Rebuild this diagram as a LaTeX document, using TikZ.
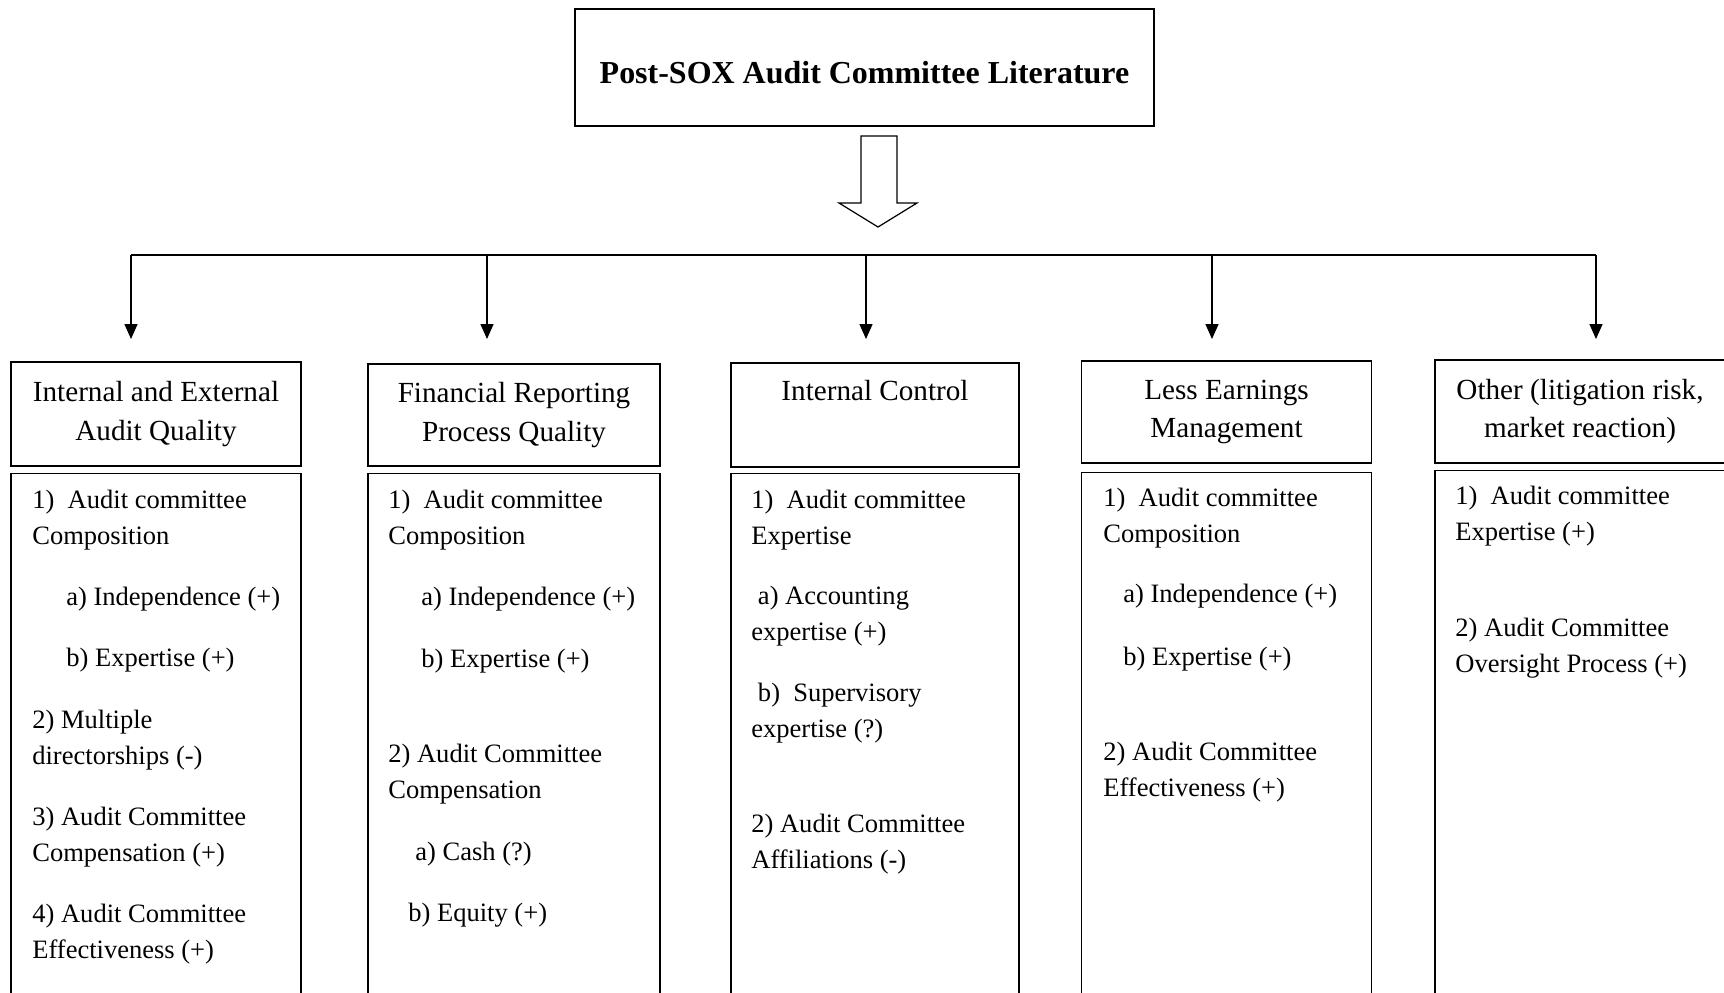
\documentclass[tikz,border=0pt]{standalone}
\usepackage{fontspec}
\setmainfont{Liberation Serif}
\usetikzlibrary{arrows.meta}

\tikzset{
  hdr/.style={draw, line width=0.8pt, align=center, inner sep=0pt,
    minimum width=5.8cm, minimum height=2.04cm,
    font=\fontsize{16.6}{21.9}\selectfont},
  bodybox/.style={draw, line width=0.8pt, inner sep=0pt, anchor=north,
    minimum width=5.8cm, minimum height=11cm},
  item/.style={anchor=base west, align=left, inner sep=0pt,
    font=\fontsize{15.1}{20.2}\selectfont},
  feed/.style={-{Triangle[width=7.4pt,length=8.5pt]}, line width=0.7pt},
}

\begin{document}
\begin{tikzpicture}[x=0.02cm, y=-0.02cm]
	\useasboundingbox (0,0) rectangle (1724,992);
	\clip (0,0) rectangle (1724,992);
	
	% title and block arrow
	\node[draw, line width=0.8pt, minimum width=11.58cm, minimum height=2.34cm,
	  text height=17.8pt, text depth=0pt,
	  font=\bfseries\fontsize{18.2}{22}\selectfont] (top) at (864.5,67.5) {Post-SOX Audit Committee Literature};
	\draw[line width=0.7pt] (861,136) -- (897,136) -- (897,203) -- (917,203) -- (878,227)
	  -- (839,203) -- (861,203) -- cycle;
	
	% branches
	\foreach \x [count=\i] in {131,487,866,1212,1596}{
		\coordinate (s\i) at (\x,255);
		\coordinate (t\i) at (\x,339);
		\draw[feed] (s\i) -- (t\i);
	}
	\draw[line width=0.8pt] (s1) -- (s5);
	
	% headings
	\node[hdr, minimum height=2.08cm] (hq) at (156,414) {Internal and External\\Audit Quality};
	\node[hdr, minimum width=5.84cm] (hfr) at (514,415) {Financial Reporting\\Process Quality};
	\node[hdr, minimum width=5.76cm, minimum height=2.08cm] (hic) at (875,415) {Internal Control\\\strut};
	\node[hdr] (hem) at (1226.5,412) {Less Earnings\\Management};
	\node[hdr, minimum height=2.06cm] (hot) at (1580,411.5) {Other (litigation risk,\\market reaction)};
	
	% bodies
	\node[bodybox] (bq) at (156,473) {};
	\node[bodybox, minimum width=5.84cm] (bfr) at (514,473) {};
	\node[bodybox, minimum width=5.76cm] (bic) at (875,473) {};
	\node[bodybox] (bem) at (1226.5,472) {};
	\node[bodybox] (bot) at (1580,470) {};
	
	% audit quality
	\node[item] (q1) at (32,544) {1)~~Audit committee\\Composition};
	\node[item] (q1a) at (66,605) {a) Independence (+)};
	\node[item] (q1b) at (66,666) {b) Expertise (+)};
	\node[item] (q2) at (32,764) {2) Multiple\\directorships (-)};
	\node[item] (q3) at (32,861) {3) Audit Committee\\Compensation (+)};
	\node[item] (q4) at (32,958) {4) Audit Committee\\Effectiveness (+)};
	
	% reporting process
	\node[item] (fr1) at (388,544) {1)~~Audit committee\\Composition};
	\node[item] (fr1a) at (421,605) {a) Independence (+)};
	\node[item] (fr1b) at (421,667) {b) Expertise (+)};
	\node[item] (fr2) at (388,798) {2) Audit Committee\\Compensation};
	\node[item] (fr2a) at (415,860) {a) Cash (?)};
	\node[item] (fr2b) at (408,921) {b) Equity (+)};
	
	% internal control
	\node[item] (ic1) at (751,544) {1)~~Audit committee\\Expertise};
	\node[item] (ic1a) at (751,640) {\ a) Accounting\\expertise (+)};
	\node[item] (ic1b) at (751,737) {\ b)~~Supervisory\\expertise (?)};
	\node[item] (ic2) at (751,868) {2) Audit Committee\\Affiliations (-)};
	
	% earnings management
	\node[item] (em1) at (1103,542) {1)~~Audit committee\\Composition};
	\node[item] (em1a) at (1123,602) {a) Independence (+)};
	\node[item] (em1b) at (1123,665) {b) Expertise (+)};
	\node[item] (em2) at (1103,796) {2) Audit Committee\\Effectiveness (+)};
	
	% other
	\node[item] (ot1) at (1455,540) {1)~~Audit committee\\Expertise (+)};
	\node[item] (ot2) at (1455,672) {2) Audit Committee\\Oversight Process (+)};
\end{tikzpicture}
\end{document}
